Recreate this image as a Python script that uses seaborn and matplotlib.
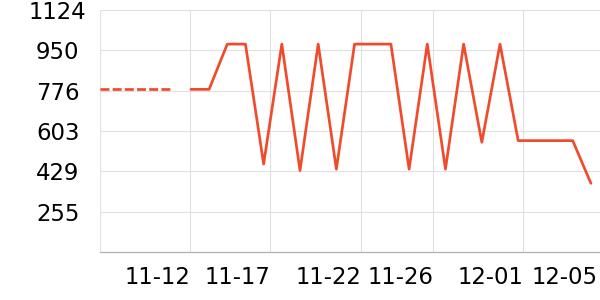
import matplotlib
matplotlib.use("Agg")
import matplotlib.pyplot as plt
import seaborn as sns
import pandas as pd
import numpy as np

# ---- data ----
dashed_idx = [0, 1, 2, 3, 4]
dashed_vals = [782, 782, 782, 782, 782]
solid_idx = list(range(5, 28))
solid_vals = [782, 782, 977, 977, 460, 977, 432, 977, 438, 977, 977, 977,
              438, 977, 438, 977, 554, 977, 561, 561, 561, 561, 377]
x_tick_pos = [0, 4.95, 9.35, 14.36, 18.32, 23.27, 27.39]
x_tick_labels = ["", "11-12", "11-17", "11-22", "11-26", "12-01", "12-05"]
y_min, y_max = 81, 1124
y_tick_labels = ["255", "429", "603", "776", "950", "1124"]

color = "#ef4b2c"

sns.set_theme(style="white")
plt.rcParams['font.family'] = ['DejaVu Sans']

fig = plt.figure(figsize=(6, 3), dpi=100)
ax = fig.add_axes([100/600, 1 - 252/300, 500/600, 242/300])

df_d = pd.DataFrame({"x": dashed_idx, "y": dashed_vals})
df_s = pd.DataFrame({"x": solid_idx, "y": solid_vals})
sns.lineplot(data=df_d, x="x", y="y", ax=ax, color=color, linewidth=1.95,
             dashes=False, linestyle=(0, (3.3, 1.2)))
sns.lineplot(data=df_s, x="x", y="y", ax=ax, color=color, linewidth=1.95)

ax.set_xlim(0, 27.5)
ax.set_ylim(y_min, y_max)
step = (y_max - y_min) / 6
ax.set_yticks([y_min + step * (k + 1) for k in range(6)])
ax.set_yticklabels(y_tick_labels)
ax.set_xticks(x_tick_pos)
ax.set_xticklabels(x_tick_labels)
ax.set_xlabel("")
ax.set_ylabel("")

ax.grid(True, color="#e0e0e0", linewidth=0.8)
ax.set_axisbelow(True)
for s in ["top", "right", "left"]:
    ax.spines[s].set_visible(False)
ax.spines["bottom"].set_color("#b0b0b0")
ax.spines["bottom"].set_linewidth(0.9)

ax.tick_params(axis="y", length=2.5, color="#c8c8c8", width=0.8, pad=28,
               labelsize=16.4, labelcolor="black")
ax.tick_params(axis="x", length=3, color="#b0b0b0", width=0.8, pad=7,
               labelsize=16.4, labelcolor="black")
for lab in ax.get_yticklabels():
    lab.set_horizontalalignment("center")
for lab in ax.get_xticklabels():
    lab.set_horizontalalignment("right")

last = ax.xaxis.get_major_ticks()[-1]
last.tick1line.set_visible(False)
last.gridline.set_visible(False)

fig.savefig("out.png", dpi=100)
